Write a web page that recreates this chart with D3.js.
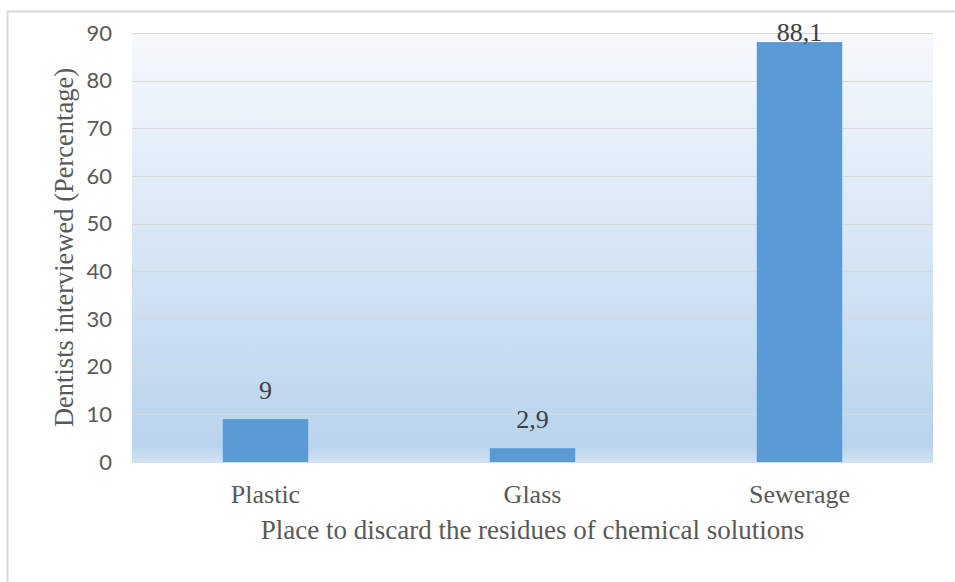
<!DOCTYPE html>
<html>
<head>
<meta charset="utf-8">
<script src="https://cdn.jsdelivr.net/npm/d3@7"></script>
<style>
body{margin:0;background:#fff}
</style>
</head>
<body>
<div id="chart"></div>
<script>
// data
var categories = ["Plastic", "Glass", "Sewerage"]
var values = [9, 2.9, 88.1]
var labels = ["9", "2,9", "88,1"]
var yTicks = [0, 10, 20, 30, 40, 50, 60, 70, 80, 90]

var width = 955
var height = 582
var plot = {left: 132, right: 933, top: 33, bottom: 462}

var svg = d3.select("#chart").append("svg")
	.attr("width", width)
	.attr("height", height)

var defs = svg.append("defs")
var grad = defs.append("linearGradient")
	.attr("id", "bg")
	.attr("x1", 0).attr("y1", 0).attr("x2", 0).attr("y2", 1)
grad.append("stop").attr("offset", "0%").attr("stop-color", "#f6f9fd")
grad.append("stop").attr("offset", "96%").attr("stop-color", "#b9d4ed")
grad.append("stop").attr("offset", "100%").attr("stop-color", "#d3e2f2")

// outer frame
svg.append("rect")
	.attr("x", 7.5).attr("y", 11.5)
	.attr("width", width).attr("height", height)
	.attr("fill", "none")
	.attr("stroke", "#d9d9d9")
	.attr("stroke-width", 2)

var x = d3.scaleBand()
	.domain(categories)
	.range([plot.left, plot.right])
	.paddingInner(0.68)
	.paddingOuter(0.34)

var y = d3.scaleLinear()
	.domain([0, 90])
	.range([plot.bottom, plot.top])

svg.append("rect")
	.attr("x", plot.left).attr("y", plot.top)
	.attr("width", plot.right - plot.left)
	.attr("height", plot.bottom - plot.top + 1)
	.attr("fill", "url(#bg)")

// gridlines
svg.append("g").selectAll("line")
	.data(yTicks.filter(d => d > 0))
	.enter().append("line")
	.attr("x1", plot.left).attr("x2", plot.right)
	.attr("y1", d => Math.round(y(d)) + 0.5)
	.attr("y2", d => Math.round(y(d)) + 0.5)
	.attr("stroke", "#d9d9d9")
	.attr("stroke-width", 1)

// y axis labels
var yAxis = d3.axisLeft(y).tickValues(yTicks).tickSize(0).tickPadding(20)
var gy = svg.append("g")
	.attr("transform", "translate(" + plot.left + ",0)")
	.call(yAxis)
gy.select(".domain").remove()
gy.selectAll("text")
	.attr("font-family", "Lato, 'Open Sans', sans-serif")
	.attr("font-size", 22)
	.attr("fill", "#595959")

// bars
svg.append("g").selectAll("rect")
	.data(values)
	.enter().append("rect")
	.attr("x", (d, i) => x(categories[i]))
	.attr("width", x.bandwidth())
	.attr("y", d => y(d))
	.attr("height", d => y(0) - y(d))
	.attr("fill", "#5b9bd5")

// value labels, kept inside the plot area like the original
svg.append("g").selectAll("text")
	.data(values)
	.enter().append("text")
	.attr("x", (d, i) => x(categories[i]) + x.bandwidth() / 2)
	.attr("y", d => Math.max(y(d) - 20, plot.top + 8))
	.attr("text-anchor", "middle")
	.attr("font-family", "'Liberation Serif', serif")
	.attr("font-size", 26)
	.attr("fill", "#404040")
	.text((d, i) => labels[i])

// x category labels
var xAxis = d3.axisBottom(x).tickSize(0).tickPadding(23)
var gx = svg.append("g")
	.attr("transform", "translate(0," + plot.bottom + ")")
	.call(xAxis)
gx.select(".domain").remove()
gx.selectAll("text")
	.attr("font-family", "'Liberation Serif', serif")
	.attr("font-size", 26)
	.attr("fill", "#595959")

// axis titles
svg.append("text")
	.attr("x", (plot.left + plot.right) / 2)
	.attr("y", 539)
	.attr("text-anchor", "middle")
	.attr("font-family", "'Liberation Serif', serif")
	.attr("font-size", 27)
	.attr("fill", "#595959")
	.text("Place to discard the residues of chemical solutions")

svg.append("text")
	.attr("transform", "translate(73," + (plot.top + plot.bottom) / 2 + ") rotate(-90)")
	.attr("text-anchor", "middle")
	.attr("font-family", "'Liberation Serif', serif")
	.attr("font-size", 26.5)
	.attr("fill", "#595959")
	.text("Dentists interviewed (Percentage)")
</script>
</body>
</html>
